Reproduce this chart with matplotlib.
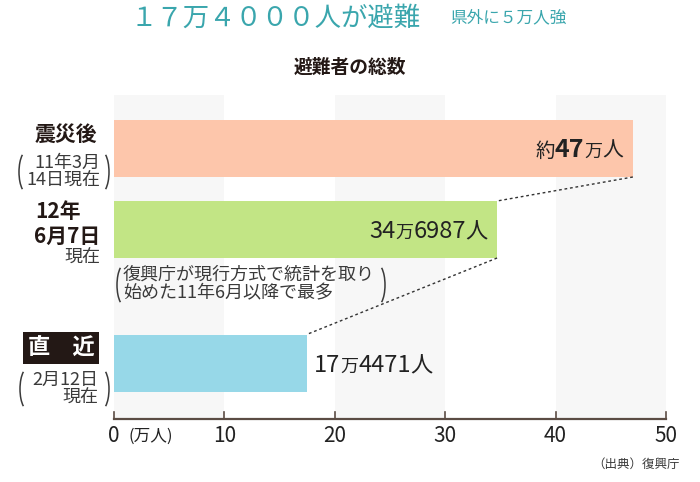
import matplotlib
matplotlib.use("Agg")
import matplotlib.pyplot as plt
from matplotlib.patches import Arc
from matplotlib.transforms import IdentityTransform

plt.rcParams['font.family'] = ['Noto Sans CJK JP', 'DejaVu Sans']

# data (万人)
categories = ['震災後', '12年6月7日', '直近']
values = [47.0, 34.6987, 17.4471]
colors = ['#fdc6ab', '#c2e585', '#97d8e8']
value_parts = [
    [('約', 14, 'normal'), ('47', 18, 'bold'), ('万', 13, 'normal'), ('人', 15, 'normal')],
    [('34', 17, 'normal'), ('万', 13, 'normal'), ('6987', 17, 'normal'), ('人', 16, 'normal')],
    [('17', 17, 'normal'), ('万', 13, 'normal'), ('4471', 17, 'normal'), ('人', 16, 'normal')],
]
xticks = [0, 10, 20, 30, 40, 50]

W, H = 700, 482
fig = plt.figure(figsize=(7, 4.82), dpi=100)


def fx(x):
    return x / W


def fy(y):
    return 1 - y / H


# axes: x from px 114 to 666, y from px 95 to 419
ax = fig.add_axes([fx(114), fy(419), fx(666) - fx(114), fy(95) - fy(419)])
ax.set_xlim(0, 50)
ax.set_ylim(419, 95)  # pixel-like vertical units
for s in ax.spines.values():
    s.set_visible(False)
ax.set_yticks([])
ax.set_xticks([])
ax.patch.set_alpha(0)

# alternating background bands
for i in range(0, 50, 20):
    ax.axvspan(i, i + 10, color='#f7f7f7', zorder=0, lw=0)

# bars
centers = [148.5, 229.5, 363]
ax.barh(centers, values, height=57, color=colors, zorder=2)

# dotted connectors
for i in range(len(values) - 1):
    ax.plot([values[i], values[i + 1]], [centers[i] + 28.5, centers[i + 1] - 28.5],
            ls=(0, (2, 2)), color='#333333', lw=1, zorder=3)

# axis line and ticks
ink = '#5b4c44'
ax.plot([0, 50], [419, 419], color=ink, lw=1.6, clip_on=False, zorder=4)
for t in xticks:
    ax.plot([t, t], [419, 412], color=ink, lw=1.2, clip_on=False, zorder=4)
    fig.text(fx(114 + t * 11.04), fy(436), str(t), ha='center', va='center',
             fontsize=15, color='#222222')
fig.text(fx(129), fy(436), '(万人)', ha='left', va='center', fontsize=12, color='#222222')

fig.canvas.draw()
renderer = fig.canvas.get_renderer()


def mixed_text(x, y, parts, ha='left', color='#222222'):
    # measure each piece, then place them side by side on a common baseline
    widths = []
    for s, size, weight in parts:
        t = fig.text(0, 0, s, fontsize=size, fontweight=weight)
        bb = t.get_window_extent(renderer)
        widths.append(bb.width)
        t.remove()
    total = sum(widths)
    start = x - total if ha == 'right' else x
    cur = start
    for (s, size, weight), w in zip(parts, widths):
        fig.text(fx(cur), fy(y), s, fontsize=size, fontweight=weight, color=color,
                 ha='left', va='baseline')
        cur += w


def paren(x, y0, y1, side, color='#3a3a3a'):
    # thin tall bracket drawn as an elliptical arc, in output pixels
    h = y1 - y0
    w = 16
    cy = H - (y0 + y1) / 2
    if side == 'left':
        arc = Arc((x + w / 2, cy), w, h, theta1=105, theta2=255, color=color, lw=1.1,
                  transform=IdentityTransform())
    else:
        arc = Arc((x - w / 2, cy), w, h, theta1=-75, theta2=75, color=color, lw=1.1,
                  transform=IdentityTransform())
    fig.add_artist(arc)


mixed_text(623, 157, value_parts[0], ha='right')
mixed_text(488, 238, value_parts[1], ha='right')
mixed_text(314, 372, value_parts[2], ha='left')

# left labels
dark = '#231815'
gray = '#3a3a3a'
fig.text(fx(97), fy(134), '震災後', ha='right', va='center', fontsize=15, fontweight='bold', color=dark)
fig.text(fx(100), fy(172), '11年3月\n14日現在', ha='right', va='center', fontsize=13,
         color=gray, linespacing=1.0)
paren(19, 151, 193, 'left')
paren(109, 151, 193, 'right')

fig.text(fx(81), fy(211), '12年', ha='right', va='center', fontsize=15, fontweight='bold', color=dark)
fig.text(fx(100), fy(236), '6月7日', ha='right', va='center', fontsize=15, fontweight='bold', color=dark)
fig.text(fx(100), fy(258), '現在', ha='right', va='center', fontsize=13, color=gray)

fig.text(fx(123), fy(284), '復興庁が現行方式で統計を取り\n始めた11年6月以降で最多', ha='left', va='center',
         fontsize=13, color=gray, linespacing=1.0)
paren(117, 264, 306, 'left')
paren(385, 264, 306, 'right')

fig.text(fx(61), fy(348), '直　近', ha='center', va='center', fontsize=16, fontweight='bold', color='white',
         bbox=dict(boxstyle='square,pad=0.22', fc='#231815', ec='none'))
fig.text(fx(98), fy(389), '2月12日\n現在', ha='right', va='center', fontsize=13,
         color=gray, linespacing=1.0, multialignment='right')
paren(20, 368, 410, 'left')
paren(109, 368, 410, 'right')

# titles
teal = '#3aa6ad'
fig.text(fx(276), fy(18), '１７万４０００人が避難', ha='center', va='center', fontsize=19, color=teal)
fig.text(fx(508), fy(18), '県外に５万人強', ha='center', va='center', fontsize=12, color=teal)
fig.text(fx(350), fy(67), '避難者の総数', ha='center', va='center', fontsize=13.5, fontweight='bold', color=dark)
fig.text(fx(680), fy(464), '（出典）復興庁', ha='right', va='center', fontsize=9, color=gray)

fig.savefig('out.png', dpi=100)
